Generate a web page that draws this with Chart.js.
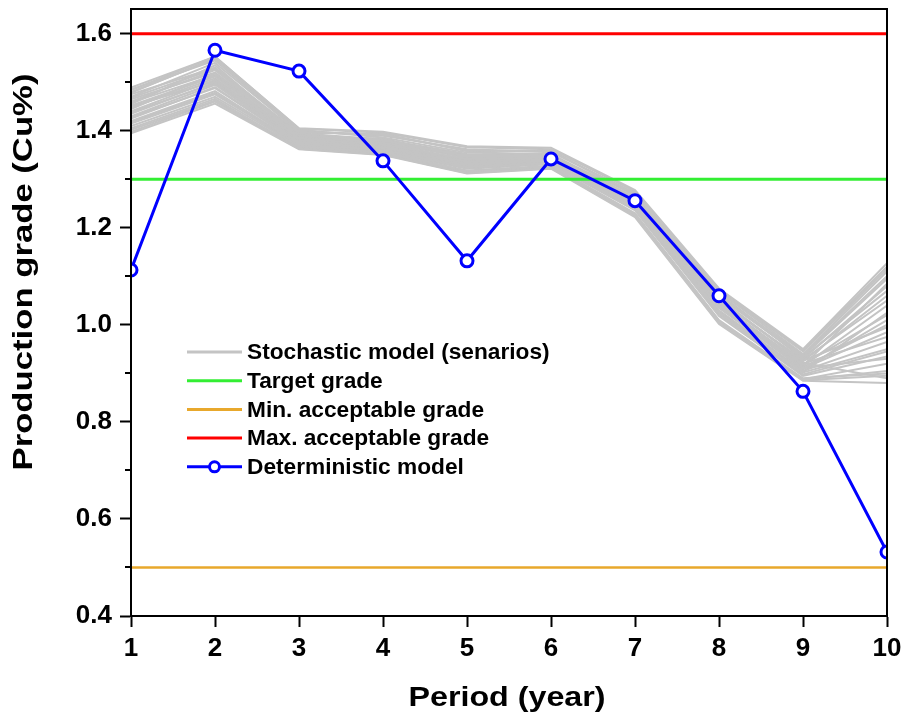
<!DOCTYPE html>
<html>
<head>
<meta charset="utf-8">
<script src="https://cdn.jsdelivr.net/npm/chart.js@4.4.1/dist/chart.umd.min.js"></script>
<style>
  html, body { margin: 0; padding: 0; background: #fff; }
  canvas { display: block; }
</style>
</head>
<body>
<canvas id="c" width="904" height="721"></canvas>
<script>
// ---------- data ----------
const periods = [1, 2, 3, 4, 5, 6, 7, 8, 9, 10];
const deterministic = [1.113, 1.566, 1.523, 1.338, 1.132, 1.342, 1.256, 1.060, 0.863, 0.532];
const targetGrade = 1.3;
const minGrade = 0.5;
const maxGrade = 1.6;
const yTicks = [0.4, 0.6, 0.8, 1.0, 1.2, 1.4, 1.6];
const yMinorTicks = [0.5, 0.7, 0.9, 1.1, 1.3, 1.5];
const xTicks = [1, 2, 3, 4, 5, 6, 7, 8, 9, 10];

const sc01 = [1.489, 1.553, 1.405, 1.398, 1.368, 1.365, 1.278, 1.075, 0.950, 1.127];
const sc02 = [1.395, 1.456, 1.362, 1.350, 1.312, 1.322, 1.222, 1.002, 0.885, 0.880];
const sc03 = [1.470, 1.540, 1.398, 1.392, 1.360, 1.358, 1.270, 1.068, 0.940, 1.110];
const sc04 = [1.410, 1.470, 1.368, 1.356, 1.318, 1.328, 1.230, 1.010, 0.890, 0.900];
const sc05 = [1.452, 1.512, 1.384, 1.372, 1.342, 1.345, 1.255, 1.045, 0.918, 1.020];
const sc06 = [1.430, 1.495, 1.376, 1.366, 1.332, 1.338, 1.248, 1.035, 0.910, 0.985];
const sc07 = [1.480, 1.548, 1.402, 1.386, 1.355, 1.352, 1.262, 1.060, 0.935, 1.095];
const sc08 = [1.420, 1.482, 1.372, 1.360, 1.325, 1.334, 1.240, 1.025, 0.902, 0.950];
const sc09 = [1.460, 1.525, 1.390, 1.380, 1.348, 1.348, 1.258, 1.050, 0.925, 1.060];
const sc10 = [1.440, 1.505, 1.380, 1.368, 1.336, 1.341, 1.250, 1.040, 0.913, 1.000];
const sc11 = [1.402, 1.462, 1.366, 1.354, 1.316, 1.326, 1.228, 1.008, 0.888, 0.920];
const sc12 = [1.475, 1.530, 1.395, 1.382, 1.352, 1.350, 1.268, 1.065, 0.930, 1.080];
const sc13 = [1.445, 1.518, 1.386, 1.376, 1.345, 1.346, 1.252, 1.042, 0.915, 1.040];
const sc14 = [1.415, 1.475, 1.370, 1.358, 1.322, 1.331, 1.236, 1.018, 0.895, 0.935];
const sc15 = [1.485, 1.545, 1.400, 1.390, 1.362, 1.356, 1.272, 1.070, 0.945, 1.115];
const sc16 = [1.425, 1.490, 1.374, 1.364, 1.328, 1.336, 1.244, 1.030, 0.905, 0.965];
const sc17 = [1.465, 1.520, 1.392, 1.378, 1.350, 1.347, 1.260, 1.055, 0.922, 0.890];
const sc18 = [1.435, 1.500, 1.378, 1.370, 1.334, 1.340, 1.246, 1.038, 0.908, 1.010];
const sc19 = [1.455, 1.535, 1.388, 1.384, 1.344, 1.352, 1.256, 1.048, 0.928, 1.050];
const sc20 = [1.405, 1.466, 1.364, 1.352, 1.314, 1.324, 1.226, 1.005, 0.887, 0.905];
const sc21 = [1.478, 1.550, 1.396, 1.394, 1.358, 1.360, 1.266, 1.062, 0.938, 1.100];
const sc22 = [1.448, 1.508, 1.382, 1.374, 1.340, 1.343, 1.254, 1.044, 0.920, 0.975];
const sc23 = [1.418, 1.478, 1.371, 1.362, 1.326, 1.333, 1.238, 1.022, 0.898, 0.945];
const sc24 = [1.468, 1.528, 1.394, 1.380, 1.346, 1.349, 1.262, 1.058, 0.933, 1.070];
const sc25 = [1.438, 1.498, 1.380, 1.367, 1.330, 1.339, 1.245, 1.036, 0.911, 0.930];
const sc26 = [1.458, 1.515, 1.388, 1.375, 1.338, 1.344, 1.258, 1.052, 0.926, 0.995];
const sc27 = [1.428, 1.488, 1.376, 1.363, 1.324, 1.335, 1.242, 1.028, 0.903, 1.025];
const sc28 = [1.484, 1.553, 1.404, 1.396, 1.366, 1.362, 1.275, 1.072, 0.948, 1.120];
const sc29 = [1.398, 1.460, 1.363, 1.351, 1.313, 1.323, 1.224, 1.004, 0.886, 0.895];
const sc30 = [1.450, 1.502, 1.384, 1.371, 1.339, 1.342, 1.250, 1.040, 0.916, 1.085];
const scenarios = [sc01, sc02, sc03, sc04, sc05, sc06, sc07, sc08, sc09, sc10,
                   sc11, sc12, sc13, sc14, sc15, sc16, sc17, sc18, sc19, sc20,
                   sc21, sc22, sc23, sc24, sc25, sc26, sc27, sc28, sc29, sc30];

const legendLabels = ['Stochastic model (senarios)', 'Target grade', 'Min. acceptable grade',
                      'Max. acceptable grade', 'Deterministic model'];
const xTitle = 'Period (year)';
const yTitle = 'Production grade (Cu%)';

// ---------- styles ----------
const C_GREY = '#c4c4c4', C_GREEN = '#33ee33', C_ORANGE = '#e8a82c', C_RED = '#ff0000', C_BLUE = '#0000ff';
const FONT = "'Liberation Sans', Arial, Helvetica, sans-serif";

const toXY = arr => arr.map((v, i) => ({ x: periods[i], y: v }));
const hline = v => [{ x: periods[0], y: v }, { x: periods[periods.length - 1], y: v }];

const datasets = [
  { label: legendLabels[4], data: toXY(deterministic), borderColor: C_BLUE, borderWidth: 3,
    pointRadius: 6, pointHoverRadius: 6, pointBorderWidth: 3, pointBackgroundColor: '#fff', pointBorderColor: C_BLUE, tension: 0 },
  { label: legendLabels[3], data: hline(maxGrade), borderColor: C_RED, borderWidth: 3, pointRadius: 0 },
  { label: legendLabels[1], data: hline(targetGrade), borderColor: C_GREEN, borderWidth: 3, pointRadius: 0 },
  { label: legendLabels[2], data: hline(minGrade), borderColor: C_ORANGE, borderWidth: 2.5, pointRadius: 0 },
];
scenarios.forEach((s, i) => datasets.push({
  label: i === 0 ? legendLabels[0] : 'scenario ' + (i + 1),
  data: toXY(s), borderColor: C_GREY, borderWidth: 2, pointRadius: 0, tension: 0
}));

// ---------- plugins ----------
const framePlugin = {
  id: 'frame',
  afterDraw(chart) {
    const { ctx, chartArea: a, scales } = chart;
    ctx.save();
    ctx.strokeStyle = '#000';
    ctx.lineWidth = 2;
    ctx.strokeRect(a.left, a.top, a.right - a.left, a.bottom - a.top);
    // minor y ticks
    ctx.beginPath();
    yMinorTicks.forEach(v => {
      const py = Math.round(scales.y.getPixelForValue(v));
      ctx.moveTo(a.left - 6, py);
      ctx.lineTo(a.left, py);
    });
    ctx.stroke();

    // axis titles (stretched to match reference widths)
    ctx.fillStyle = '#000';
    ctx.font = 'bold 28px ' + FONT;
    ctx.textAlign = 'center';
    ctx.textBaseline = 'middle';
    let w = ctx.measureText(xTitle).width;
    ctx.save();
    ctx.translate((a.left + a.right) / 2 - 2, 698);
    ctx.scale(197 / w, 1);
    ctx.fillText(xTitle, 0, 0);
    ctx.restore();
    w = ctx.measureText(yTitle).width;
    ctx.save();
    ctx.translate(24, 272);
    ctx.rotate(-Math.PI / 2);
    ctx.scale(397 / w, 1);
    ctx.fillText(yTitle, 0, 0);
    ctx.restore();

    // legend
    const lx0 = 187, lx1 = 242, tx = 247, ly0 = 352, dy = 28.7;
    const colors = [C_GREY, C_GREEN, C_ORANGE, C_RED, C_BLUE];
    ctx.font = 'bold 22.7px ' + FONT;
    ctx.textAlign = 'left';
    ctx.textBaseline = 'middle';
    legendLabels.forEach((lab, i) => {
      const y = ly0 + i * dy;
      ctx.strokeStyle = colors[i];
      ctx.lineWidth = 3;
      ctx.beginPath();
      ctx.moveTo(lx0, y);
      ctx.lineTo(lx1, y);
      ctx.stroke();
      if (i === 4) {
        ctx.beginPath();
        ctx.arc((lx0 + lx1) / 2, y, 5, 0, Math.PI * 2);
        ctx.fillStyle = '#fff';
        ctx.fill();
        ctx.lineWidth = 3;
        ctx.stroke();
      }
      ctx.fillStyle = '#000';
      ctx.fillText(lab, tx, y + 1);
    });
    ctx.restore();
  }
};

Chart.defaults.font.family = FONT;
Chart.defaults.color = '#000';

new Chart(document.getElementById('c'), {
  type: 'line',
  data: { datasets },
  options: {
    responsive: false,
    animation: false,
    devicePixelRatio: 1,
    layout: { padding: { left: 0, right: 17, top: 7, bottom: 0 } },
    plugins: { legend: { display: false }, tooltip: { enabled: false } },
    scales: {
      x: {
        type: 'linear', min: 1, max: 10,
        afterBuildTicks: s => { s.ticks = xTicks.map(v => ({ value: v })); },
        afterFit: s => { s.height = 105; s.paddingLeft = 0; s.paddingRight = 0; },
        ticks: { font: { size: 26, weight: 'bold' }, padding: 6, maxRotation: 0, autoSkip: false,
                 callback: v => String(v) },
        grid: { drawOnChartArea: false, drawTicks: true, tickLength: 11, tickWidth: 2, tickColor: '#000' },
        border: { display: true, color: '#000', width: 2 },
        title: { display: false }
      },
      y: {
        type: 'linear', min: 0.4, max: 1.651,
        afterBuildTicks: s => { s.ticks = yTicks.map(v => ({ value: v })); },
        afterFit: s => { s.width = 131; s.paddingTop = 0; s.paddingBottom = 0; },
        ticks: { font: { size: 26, weight: 'bold' }, padding: 8,
                 callback: v => Number(v).toFixed(1) },
        grid: { drawOnChartArea: false, drawTicks: true, tickLength: 11, tickWidth: 2, tickColor: '#000' },
        border: { display: true, color: '#000', width: 2 },
        title: { display: false }
      }
    }
  },
  plugins: [framePlugin]
});
</script>
</body>
</html>
